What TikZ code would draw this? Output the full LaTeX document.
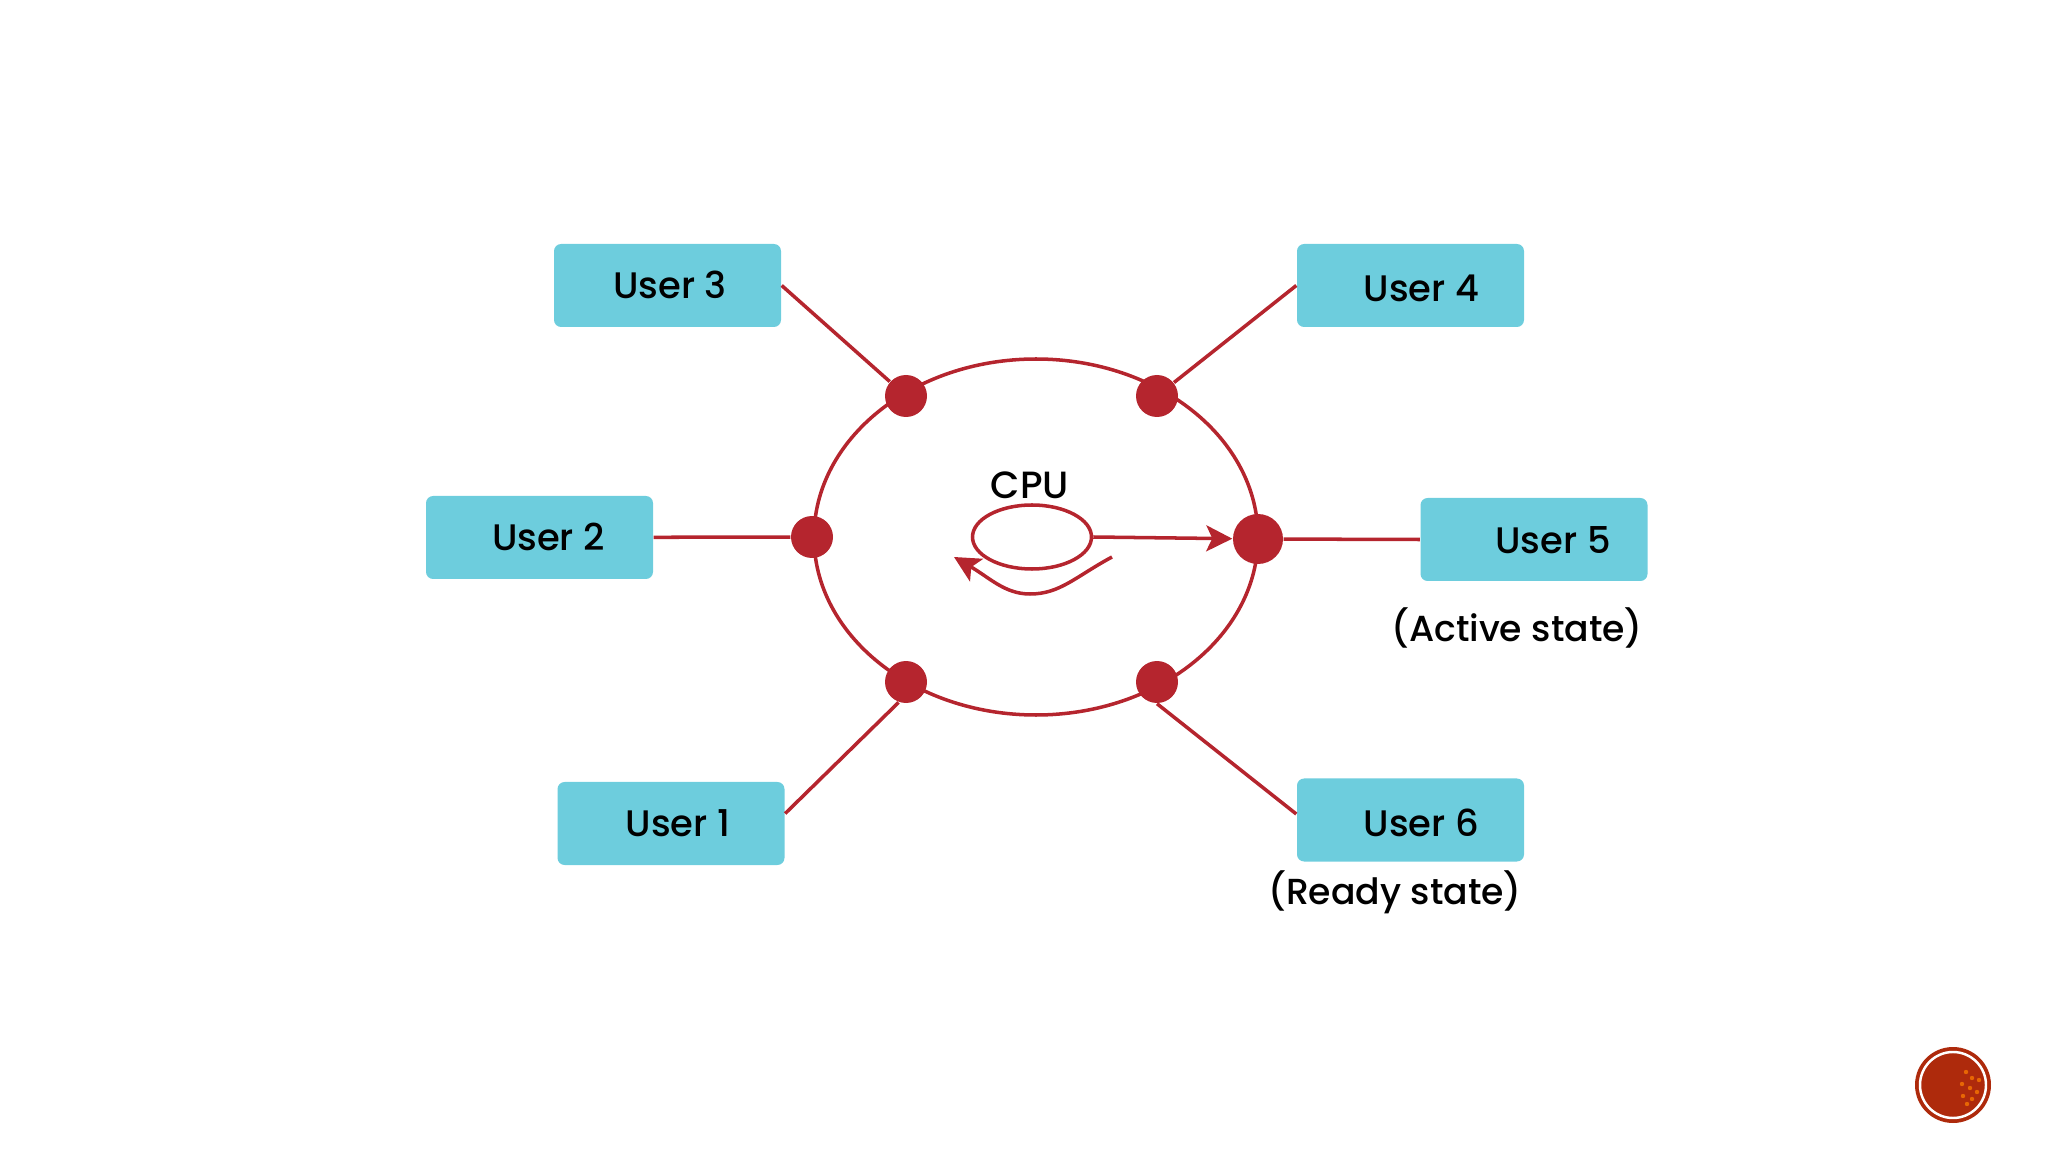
\documentclass[tikz,border=0pt]{standalone}
\usepackage{fontspec}
\setmainfont{Poppins Medium}
\usepackage{xcolor}
\usetikzlibrary{shapes.geometric, arrows.meta, positioning, calc}
\definecolor{ringred}{HTML}{B5252E}
\definecolor{boxcyan}{HTML}{6DCDDD}
\definecolor{logored}{HTML}{AE2A0C}
\tikzset{
  userbox/.style={fill=boxcyan, rounded corners=2pt, minimum width=2.27cm, minimum height=0.83cm, inner sep=0pt, font=\fontsize{10.5}{12}\selectfont},
  userdot/.style={circle, fill=ringred, minimum size=0.42cm, inner sep=0pt},
  redline/.style={draw=ringred, line width=1pt},
  redarrow/.style={redline, -{Stealth[length=2.6mm, width=2.6mm, inset=0.6mm]}},
  statetext/.style={font=\fontsize{10.3}{12}\selectfont}
}
\begin{document}
\begin{tikzpicture}
\useasboundingbox (0,0) rectangle (20.48,-11.52);
% ring and cpu
\node[redline, ellipse, minimum width=4.44cm, minimum height=3.56cm] (ring) at (10.36,-5.37) {};
\node[redline, ellipse, minimum width=1.19cm, minimum height=0.64cm, inner sep=0pt] (cpu) at (10.32,-5.37) {};
\node[font=\fontsize{10.8}{12}\selectfont] (cpulabel) at (10.3,-4.85) {CPU};
% dots on the ring
\foreach \name/\x/\y in {dot1/9.06/-6.82,dot2/8.12/-5.37,dot3/9.06/-3.96,dot4/11.57/-3.96,dot6/11.57/-6.82}
  \node[userdot] (\name) at (\x,\y) {};
\node[userdot, minimum size=0.5cm] (dot5) at (12.58,-5.39) {};
% user boxes
\foreach \i/\x/\y/\offs/\drop in {1/6.71/-8.235/0.14/0,2/5.395/-5.375/0.18/0,3/6.675/-2.855/0.05/0,4/14.105/-2.855/0.22/0.03,5/15.34/-5.395/0.38/0.01,6/14.105/-8.2/0.22/0.04}
  \node[userbox] (user\i) at (\x,\y) {\hspace*{\offs cm}\raisebox{-\drop cm}[1.25ex][0pt]{User \i}};
% connectors
\draw[redline] (user1.5) -- (dot1.-110);
\draw[redline] (user2) -- (dot2);
\draw[redline] (user3.east) -- (dot3);
\draw[redline] (user4.west) -- (dot4);
\draw[redline] (user5.west) -- (dot5);
\draw[redline] (user6.177) -- (dot6.south);
% cpu arrows
\draw[redarrow] (cpu.east) -- (dot5);
\coordinate (loopstart) at (11.12,-5.57);
\coordinate (loopend) at (9.54,-5.57);
\draw[redarrow] (loopstart) .. controls (10.75,-5.77) and (10.6,-5.94) .. (10.3,-5.94) .. controls (10.05,-5.94) and (9.9,-5.78) .. (loopend);
% state labels
\node[statetext] (activelabel) at (15.17,-6.28) {(Active state)};
\node[statetext] (readylabel) at (13.95,-8.92) {(Ready state)};
% corner badge
\node[circle, fill=logored, minimum size=0.76cm, inner sep=0pt] (badge) at (19.53,-10.85) {};
\foreach \x/\y in {19.66/-10.72,19.72/-10.78,19.62/-10.84,19.70/-10.88,19.77/-10.92,19.63/-10.96,19.72/-10.99,19.79/-10.80,19.67/-11.04}
  \fill[orange!70!logored] (\x,\y) circle (0.022);
\node[circle, draw=white, line width=0.7pt, minimum size=0.66cm, inner sep=0pt] (badgering) at (19.53,-10.85) {};
\end{tikzpicture}
\end{document}
